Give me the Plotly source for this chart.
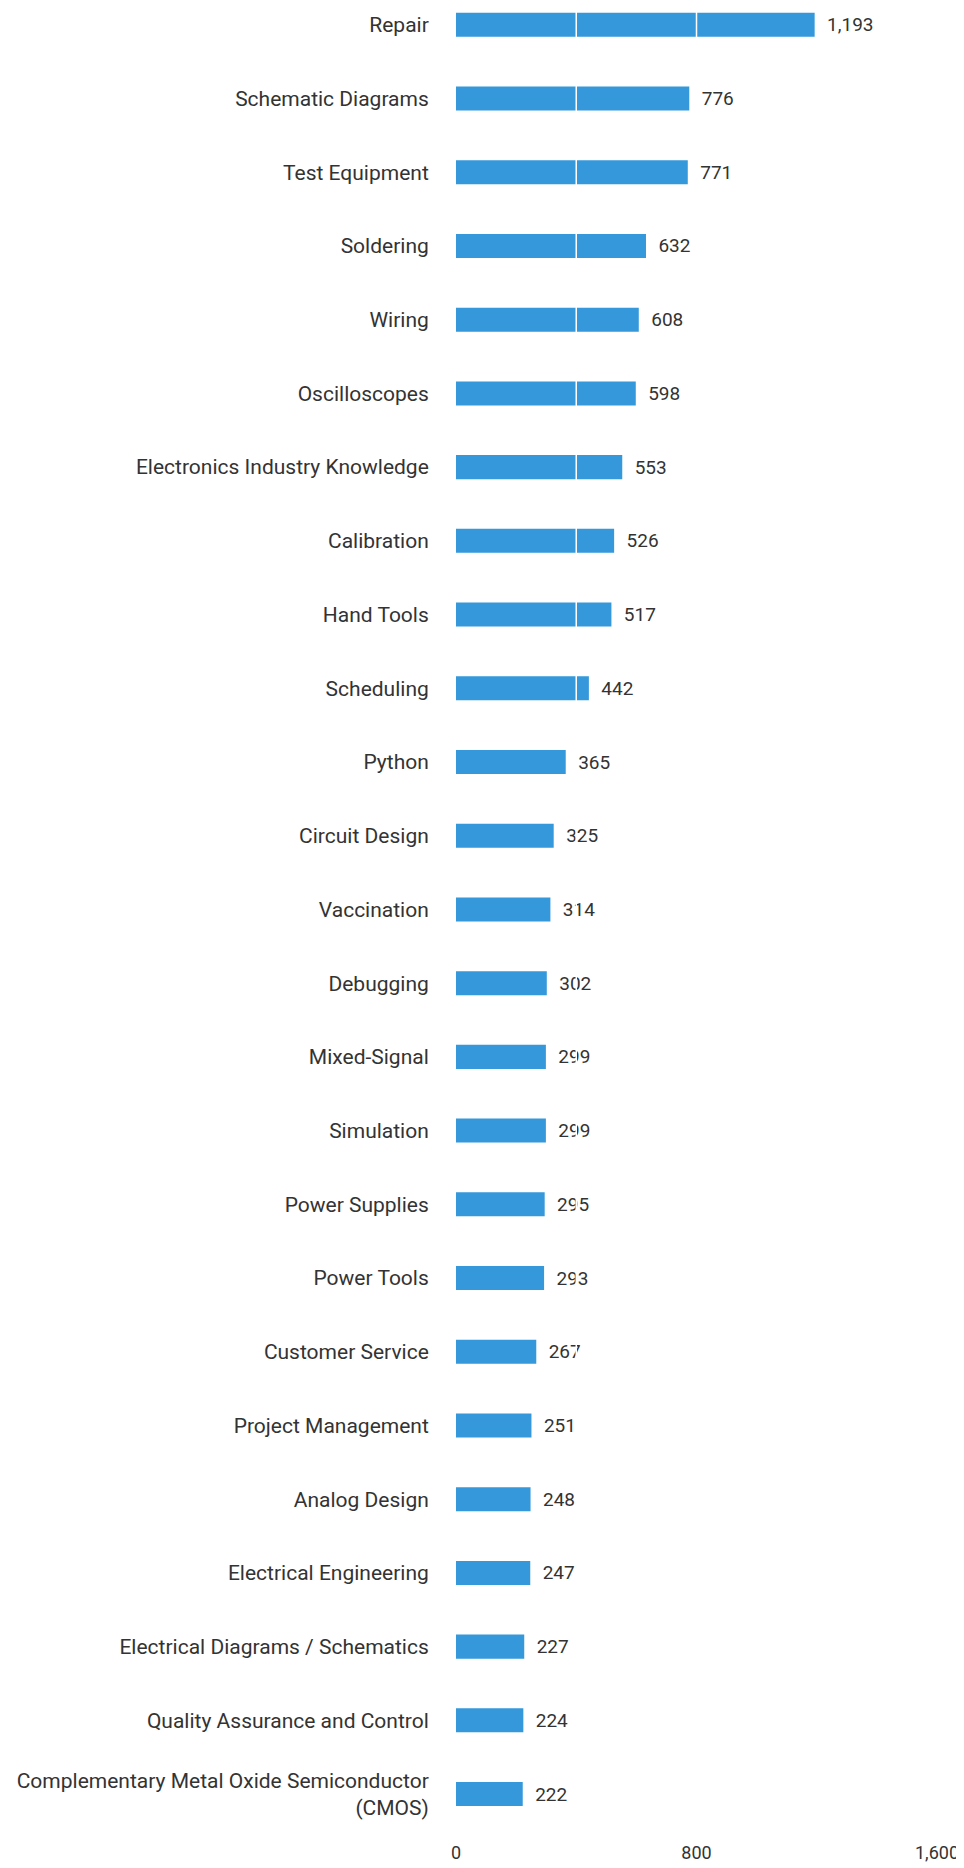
import plotly.graph_objects as go

skills = [
    "Repair", "Schematic Diagrams", "Test Equipment", "Soldering", "Wiring",
    "Oscilloscopes", "Electronics Industry Knowledge", "Calibration", "Hand Tools",
    "Scheduling", "Python", "Circuit Design", "Vaccination", "Debugging",
    "Mixed-Signal", "Simulation", "Power Supplies", "Power Tools",
    "Customer Service", "Project Management", "Analog Design",
    "Electrical Engineering", "Electrical Diagrams / Schematics",
    "Quality Assurance and Control",
    "Complementary Metal Oxide Semiconductor<br>(CMOS)",
]
counts = [1193, 776, 771, 632, 608, 598, 553, 526, 517, 442, 365, 325, 314,
          302, 299, 299, 295, 293, 267, 251, 248, 247, 227, 224, 222]

tick_values = [0, 400, 800, 1200, 1600]
tick_labels = ["0", "", "800", "", "1,600"]
grid_values = [400, 800, 1200]

FONT = "Roboto"
BAR = "#3598db"

fig = go.Figure(go.Bar(
    x=counts,
    y=list(range(len(skills))),
    orientation="h",
    marker=dict(color=BAR, line=dict(width=0)),
    width=0.326,
    text=[f"  {v:,}" for v in counts],
    textposition="outside",
    textfont=dict(family=FONT, size=19, color="#333333"),
    cliponaxis=False,
))

for g in grid_values:
    fig.add_shape(type="line", xref="x", yref="paper", x0=g, x1=g, y0=0, y1=1,
                  line=dict(color="white", width=1.5), layer="above")

fig.update_layout(
    width=956, height=1860,
    margin=dict(l=448, r=27, t=0, b=28, autoexpand=False),
    plot_bgcolor="white", paper_bgcolor="white",
    showlegend=False,
    font=dict(family=FONT, size=18, color="#333333"),
    xaxis=dict(
        range=[0, 1600], tickvals=tick_values, ticktext=tick_labels,
        showgrid=False, zeroline=False, showline=False, automargin=False,
        tickfont=dict(family=FONT, size=18, color="#333333"),
        ticks="", fixedrange=True,
    ),
    yaxis=dict(
        tickvals=list(range(len(skills))), ticktext=skills,
        range=[24.623, -0.228], autorange=False, automargin=False,
        showgrid=False, zeroline=False, showline=False,
        ticks="outside", ticklen=22, tickcolor="rgba(0,0,0,0)",
        tickfont=dict(family=FONT, size=21, color="#333333"),
    ),
)

fig.write_html("out.html")
